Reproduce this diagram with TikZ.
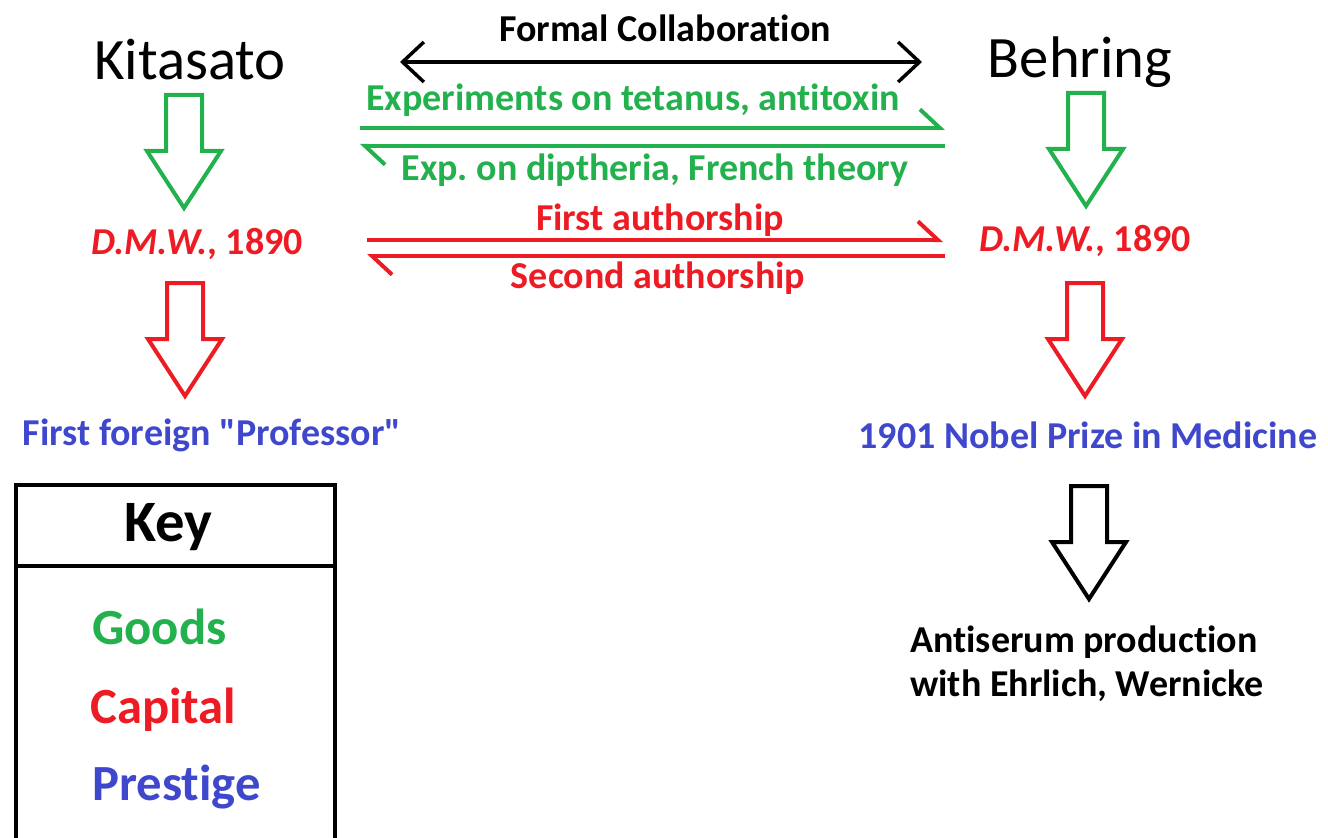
\documentclass[tikz,border=0pt]{standalone}
\usepackage{fontspec}
\setmainfont{Carlito}[Ligatures={TeXOff,NoCommon}]
\frenchspacing
\usetikzlibrary{arrows.meta}
\definecolor{goods}{RGB}{34,177,76}
\definecolor{capital}{RGB}{237,28,36}
\definecolor{prestige}{RGB}{63,72,204}
\tikzset{
  pics/blockarr/.style={code={
    \draw[line width=3pt, draw=#1, line join=miter]
      (-18,0) -- (-18,56) -- (-37,56) -- (0,113) -- (37,56) -- (18,56) -- (18,0) -- cycle;}}
}
\begin{document}
\begin{tikzpicture}[x=0.75pt, y=-0.75pt,
  person/.style={font=\fontsize{44}{50}\selectfont},
  lbl/.style={font=\bfseries\fontsize{28.5}{33}\selectfont, text=#1, inner sep=0pt},
  keyitem/.style={font=\bfseries\fontsize{38}{44}\selectfont, text=#1, anchor=west, inner sep=0pt},
  harp/.style={line width=3pt, draw=#1, -{Straight Barb[harpoon, length=15pt, width=28pt]}},
  collab/.style={line width=2.6pt, {Straight Barb[length=16pt, width=30pt]}-{Straight Barb[length=16pt, width=30pt]}}
]
  \useasboundingbox (0,0) rectangle (1328,838);

  %-- Acteurs
  \node[person] (kita) at (190, 60) {Kitasato};
  \node[person] (behr) at (1080, 62) {Behring};

  %-- Collaboration
  \node[lbl=black] (collab) at (665, 28) {Formal Collaboration};
  \coordinate (colL) at (400, 62);
  \coordinate (colR) at (922, 62);
  \draw[collab] (colL) -- (colR);

  %-- Goods
  \node[lbl=goods] (exp1) at (633, 100) {Experiments on tetanus, antitoxin};
  \node[lbl=goods] (exp2) at (655, 170) {Exp. on diptheria, French theory};
  \coordinate (g1L) at (360, 128);
  \coordinate (g1R) at (945, 128);
  \coordinate (g2L) at (360, 146);
  \coordinate (g2R) at (945, 146);
  \draw[harp=goods] (g1L) -- (g1R);
  \draw[harp=goods] (g2R) -- (g2L);

  %-- Capital
  \node[lbl=capital] (dmwL) at (197, 244) {\textit{D.M.W.}, 1890};
  \node[lbl=capital] (dmwR) at (1085, 241) {\textit{D.M.W.}, 1890};
  \node[lbl=capital] (auth1) at (660, 220) {First authorship};
  \node[lbl=capital] (auth2) at (658, 278) {Second authorship};
  \coordinate (r1L) at (367, 240);
  \coordinate (r1R) at (943, 240);
  \coordinate (r2L) at (367, 256);
  \coordinate (r2R) at (945, 256);
  \draw[harp=capital] (r1L) -- (r1R);
  \draw[harp=capital] (r2R) -- (r2L);

  %-- Prestige
  \node[lbl=prestige] (prof)  at (212, 435) {First foreign "Professor"};
  \node[lbl=prestige] (nobel) at (1088, 435) {1901 Nobel Prize in Medicine};
  \node[lbl=black, align=left, anchor=west] (serum) at (910, 664)
    {Antiserum production\\with Ehrlich, Wernicke};

  %-- Flèches pleines
  \pic at (184, 95)  {blockarr=goods};
  \pic at (1086, 93) {blockarr=goods};
  \pic at (185, 283) {blockarr=capital};
  \pic at (1085, 283) {blockarr=capital};
  \pic at (1089, 486) {blockarr=black};

  %-- Légende
  \draw[line width=3pt] (16, 842) -- (16, 485) -- (335, 485) -- (335, 842);
  \draw[line width=3pt] (16, 566) -- (335, 566);
  \node[font=\bfseries\fontsize{44}{50}\selectfont] (key) at (168, 527) {Key};
  \node[keyitem=goods]    (goodsK)    at (92, 627) {Goods};
  \node[keyitem=capital]  (capitalK)  at (90, 710) {Capital};
  \node[keyitem=prestige] (prestigeK) at (92, 787) {Prestige};
\end{tikzpicture}
\end{document}
